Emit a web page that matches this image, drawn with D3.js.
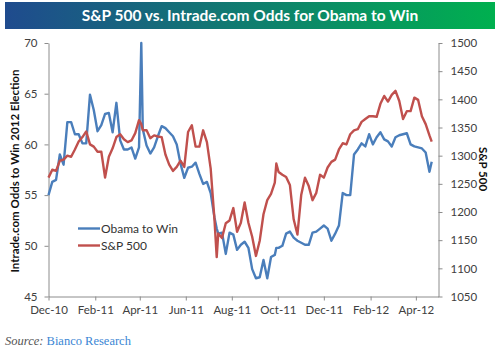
<!DOCTYPE html>
<html><head><meta charset="utf-8">
<script src="https://cdn.jsdelivr.net/npm/d3@7"></script>
<style>body{margin:0;background:#fff}svg{display:block}</style>
</head><body><svg id="c" width="500" height="355"></svg>
<script>
const dates = ["2010-12-01","2010-12-06","2010-12-11","2010-12-16","2010-12-21","2010-12-26","2010-12-31",
"2011-01-05","2011-01-10","2011-01-15","2011-01-20","2011-01-25","2011-01-30","2011-02-04","2011-02-09","2011-02-14",
"2011-02-19","2011-02-24","2011-03-01","2011-03-06","2011-03-11","2011-03-16","2011-03-21","2011-03-26","2011-03-31",
"2011-04-03","2011-04-05","2011-04-10","2011-04-15","2011-04-20","2011-04-25","2011-04-30","2011-05-05","2011-05-10",
"2011-05-15","2011-05-20","2011-05-25","2011-05-30","2011-06-04","2011-06-09","2011-06-14","2011-06-19","2011-06-24",
"2011-06-29","2011-07-04","2011-07-09","2011-07-12","2011-07-14","2011-07-19","2011-07-24","2011-07-29","2011-08-03",
"2011-08-08","2011-08-13","2011-08-18","2011-08-23","2011-08-28","2011-09-02","2011-09-07","2011-09-12","2011-09-17",
"2011-09-22","2011-09-27","2011-09-29","2011-10-02","2011-10-07","2011-10-12","2011-10-17","2011-10-22","2011-10-27",
"2011-11-01","2011-11-06","2011-11-11","2011-11-16","2011-11-21","2011-11-26","2011-12-01","2011-12-06","2011-12-11",
"2011-12-16","2011-12-21","2011-12-26","2011-12-31","2012-01-05","2012-01-10","2012-01-15","2012-01-20","2012-01-25",
"2012-01-30","2012-02-04","2012-02-09","2012-02-14","2012-02-19","2012-02-24","2012-02-29","2012-03-05","2012-03-10",
"2012-03-15","2012-03-20","2012-03-25","2012-03-30","2012-04-04","2012-04-09","2012-04-14","2012-04-19","2012-04-22"];

const obama = [55.0,56.3,56.5,59.0,58.0,62.2,62.2,
61.0,61.0,60.1,60.1,64.9,63.4,61.3,61.9,63.0,
63.1,61.2,64.1,60.4,59.5,59.5,59.7,58.6,59.7,
70.0,61.5,59.9,59.1,59.7,60.8,61.8,61.6,61.2,
60.8,60.0,58.1,56.7,57.7,57.8,58.2,57.1,56.1,
56.3,55.2,52.8,51.7,51.2,51.3,49.2,51.3,51.1,
49.6,50.1,50.4,49.8,47.7,46.8,46.9,48.6,46.8,
48.9,49.1,49.8,49.8,50.0,51.2,51.4,50.8,50.5,
50.3,50.1,50.1,51.3,51.4,51.7,52.0,51.7,50.5,
51.2,52.0,55.2,55.0,55.0,59.0,59.5,60.1,59.8,
61.0,60.0,60.7,61.2,60.5,60.3,59.8,60.7,60.9,
61.0,61.1,60.0,59.8,59.7,59.6,59.2,57.3,58.3];

const sp500 = [1261,1275,1273,1291,1293,1300,1298,
1311,1325,1333,1343,1320,1316,1307,1307,1261,
1298,1313,1333,1338,1329,1324,1327,1340,1363,
1356,1345,1345,1331,1336,1334,1333,1302,1284,
1273,1280,1291,1280,1342,1354,1316,1316,1345,
1324,1277,1187,1120,1162,1154,1180,1185,1207,
1165,1181,1217,1181,1156,1122,1149,1196,1221,
1232,1252,1286,1271,1266,1262,1248,1187,1160,
1230,1261,1246,1221,1234,1266,1261,1279,1289,
1293,1311,1322,1320,1338,1345,1347,1360,1365,
1370,1370,1369,1392,1406,1396,1408,1415,1397,
1365,1379,1379,1403,1399,1370,1356,1336,1325];

const xTickDates = ["2010-12-01","2011-02-01","2011-04-01","2011-06-01","2011-08-01","2011-10-01","2011-12-01","2012-02-01","2012-04-01"];
const xTickLabels = ["Dec-10","Feb-11","Apr-11","Jun-11","Aug-11","Oct-11","Dec-11","Feb-12","Apr-12"];
const leftTicks = [45,50,55,60,65,70];
const rightTicks = [1050,1100,1150,1200,1250,1300,1350,1400,1450,1500];
const seriesNames = ["Obama to Win","S&P 500"];
const title = "S&P 500 vs. Intrade.com Odds for Obama to Win";
const leftTitle = "Intrade.com Odds to Win 2012 Election";
const rightTitle = "S&P 500";

const parse = d3.timeParse("%Y-%m-%d");
const svg = d3.select("#c");
const L = 48.5, R = 438.5, T = 43, B = 296.5;

const defs = svg.append("defs");
const g = defs.append("linearGradient").attr("id","tg").attr("x1","0").attr("x2","1").attr("y1","0").attr("y2","0");
g.append("stop").attr("offset","0%").attr("stop-color","#1f4b8e");
g.append("stop").attr("offset","100%").attr("stop-color","#00b04f");
svg.append("rect").attr("x",5).attr("y",2).attr("width",490).attr("height",27).attr("fill","url(#tg)");
svg.append("text").attr("x",250).attr("y",20.5).attr("text-anchor","middle")
  .attr("font-family","Lato").attr("font-weight","bold").attr("font-size",15.5).attr("fill","#fff").text(title);

const x = d3.scaleTime().domain([parse("2010-12-01"), parse("2012-05-01")]).range([L, R]);
const yL = d3.scaleLinear().domain([45,70]).range([B, T]);
const yR = d3.scaleLinear().domain([1050,1500]).range([B, T]);

function styleAxis(sel){
  sel.selectAll("path").attr("stroke","#8c8c8c");
  sel.selectAll("line").attr("stroke","#8c8c8c");
  sel.selectAll("text").attr("font-family","Lato").attr("font-size",11.5).attr("fill","#404040");
}
const ax = svg.append("g").attr("transform",`translate(0,${B})`)
  .call(d3.axisBottom(x).tickValues(xTickDates.map(parse)).tickFormat((d,i)=>xTickLabels[i]).tickSizeInner(4).tickSizeOuter(0).tickPadding(5));
styleAxis(ax);
const al = svg.append("g").attr("transform",`translate(${L},0)`)
  .call(d3.axisLeft(yL).tickValues(leftTicks).tickFormat(d3.format("d")).tickSizeInner(4).tickSizeOuter(0).tickPadding(7));
styleAxis(al);
const ar = svg.append("g").attr("transform",`translate(${R},0)`)
  .call(d3.axisRight(yR).tickValues(rightTicks).tickFormat(d3.format("d")).tickSizeInner(4).tickSizeOuter(0).tickPadding(8));
styleAxis(ar);

svg.append("text").attr("transform","translate(19,171) rotate(-90)").attr("text-anchor","middle")
  .attr("font-family","Lato").attr("font-weight","bold").attr("font-size",11.5).attr("fill","#111").text(leftTitle);
svg.append("text").attr("transform","translate(479,169) rotate(90)").attr("text-anchor","middle")
  .attr("font-family","Lato").attr("font-weight","bold").attr("font-size",11.5).attr("fill","#111").text(rightTitle);

const blue = "#4a7ebb", red = "#c0504d";
const lineB = d3.line().x((d,i)=>x(parse(dates[i]))).y(d=>yL(d));
const lineR = d3.line().x((d,i)=>x(parse(dates[i]))).y(d=>yR(d));
svg.append("path").datum(obama).attr("d",lineB).attr("fill","none").attr("stroke",blue).attr("stroke-width",2.4).attr("stroke-linejoin","round");
svg.append("path").datum(sp500).attr("d",lineR).attr("fill","none").attr("stroke",red).attr("stroke-width",2.4).attr("stroke-linejoin","round");

const leg = svg.append("g");
[[seriesNames[0],blue,228.5],[seriesNames[1],red,245.5]].forEach(([n,c,yy])=>{
  leg.append("line").attr("x1",78).attr("x2",100).attr("y1",yy).attr("y2",yy).attr("stroke",c).attr("stroke-width",2.4);
  leg.append("text").attr("x",101).attr("y",yy+4.2).attr("font-family","Lato").attr("font-size",12).attr("fill","#333").text(n);
});

const src = svg.append("text").attr("x",5).attr("y",345).attr("font-family","Liberation Serif").attr("font-size",12.5);
src.append("tspan").attr("font-style","italic").attr("fill","#555").text("Source: ");
src.append("tspan").attr("fill","#3a86d4").text("Bianco Research");
</script></body></html>
